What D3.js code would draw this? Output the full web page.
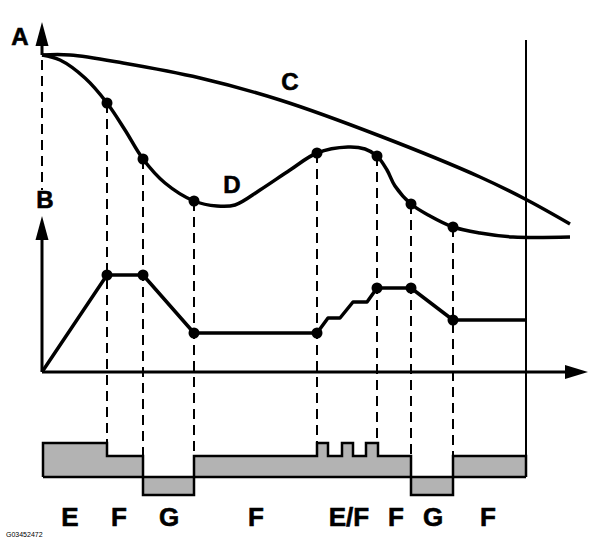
<!DOCTYPE html>
<html>
<head>
<meta charset="utf-8">
<script src="https://cdn.jsdelivr.net/npm/d3@7"></script>
<style>
  body { margin: 0; background: #fff; }
  text { font-family: "Liberation Sans", Arial, sans-serif; font-weight: bold; }
</style>
</head>
<body>
<svg width="600" height="558"></svg>
<script>
// time along the x axis, value on the y axis
var cTime  = [0, 28, 81, 158, 238, 338, 438, 485, 528];
var cValue = [317, 317, 309, 294, 272, 236, 195, 172, 148];

var dTime  = [0, 18, 43, 65, 83, 101, 123, 152, 175, 193, 218, 248, 275, 306, 323, 335, 345, 353, 369, 388, 411, 438, 471, 528];
var dValue = [317, 312, 294, 269, 242, 213, 189, 171, 166, 167, 182, 202, 219, 225, 223, 216, 202, 186, 168, 156, 145, 139, 135, 135];

var bTime  = [0, 65, 101, 152, 275, 286, 298, 311, 325, 335, 369, 411, 485];
var bValue = [0, 97, 97, 39, 39, 54, 54, 70, 70, 84, 84, 52, 52];

// instants marked with dots and dashed lines
var markTimes = [65, 101, 152, 275, 335, 369, 411];

// bottom strip of modes
var stripEdges = [1, 65, 101, 152, 275, 286, 300, 311, 324, 336, 369, 411, 484];
var stripModes = ["E", "F", "G", "F", "E", "F", "E", "F", "E", "F", "G", "F"];
var modeNames  = ["E", "F", "G"];
var modeLevels = [1, 0.62, -0.53];

var modeLabels = ["E", "F", "G", "F", "E/F", "F", "G", "F"];
var labelTimes = [28, 77, 127, 214, 307, 354, 391, 446];

var svg = d3.select("svg");

var x = d3.scaleLinear().domain([0, 546]).range([42, 588]);
var y = d3.scaleLinear().domain([0, 350]).range([372, 22]);
var yS = d3.scaleLinear().domain([0, 1]).range([477, 443]);
var level = d3.scaleOrdinal().domain(modeNames).range(modeLevels);

var cData = cTime.map((t, i) => [t, cValue[i]]);
var dData = dTime.map((t, i) => [t, dValue[i]]);
var bData = bTime.map((t, i) => [t, bValue[i]]);

var smooth = d3.line().x(d => x(d[0])).y(d => y(d[1])).curve(d3.curveCatmullRom.alpha(0.5));
var straight = d3.line().x(d => x(d[0])).y(d => y(d[1]));

// strip fill
var segs = stripModes.map((m, i) => ({m: m, t0: stripEdges[i], t1: stripEdges[i + 1]}));
svg.append("g").selectAll("rect")
  .data(segs).enter().append("rect")
    .attr("x", d => x(d.t0))
    .attr("width", d => x(d.t1) - x(d.t0))
    .attr("y", d => Math.min(yS(level(d.m)), yS(0)))
    .attr("height", d => Math.abs(yS(level(d.m)) - yS(0)))
    .style("fill", "#b3b3b3");

// strip outline
var stepPts = [[stripEdges[0], 0]];
segs.forEach(d => { stepPts.push([d.t0, level(d.m)]); stepPts.push([d.t1, level(d.m)]); });
stepPts.push([stripEdges[stripEdges.length - 1], 0]);
svg.append("path")
  .attr("d", d3.line().x(d => x(d[0])).y(d => yS(d[1]))(stepPts))
  .style("fill", "none").style("stroke", "#000").style("stroke-width", 2.5);
svg.append("line")
  .attr("x1", x(stripEdges[0])).attr("x2", x(stripEdges[stripEdges.length - 1]))
  .attr("y1", yS(0)).attr("y2", yS(0))
  .style("stroke", "#000").style("stroke-width", 2.5);

// dashed drop lines
function stripTop(t) {
  var i = stripEdges.indexOf(t);
  var lv = Math.max(level(stripModes[i - 1]), level(stripModes[i]));
  return yS(Math.max(lv, 0));
}
svg.append("g").selectAll("line")
  .data(markTimes).enter().append("line")
    .attr("x1", d => x(d)).attr("x2", d => x(d))
    .attr("y1", d => y(dValue[dTime.indexOf(d)]))
    .attr("y2", d => stripTop(d))
    .style("stroke", "#000").style("stroke-width", 2)
    .style("stroke-dasharray", "10,6");
svg.append("line")
  .attr("x1", x(0)).attr("x2", x(0)).attr("y1", y(312)).attr("y2", y(182))
  .style("stroke", "#000").style("stroke-width", 2).style("stroke-dasharray", "10,6");

// end marker line
svg.append("line")
  .attr("x1", x(484)).attr("x2", x(484)).attr("y1", 40).attr("y2", yS(0))
  .style("stroke", "#000").style("stroke-width", 2);

// axes with arrows
var ax = svg.append("g").style("stroke", "#000").style("stroke-width", 3);
ax.append("line").attr("x1", x(0)).attr("x2", x(0)).attr("y1", y(317)).attr("y2", y(327));
ax.append("line").attr("x1", x(0)).attr("x2", x(0)).attr("y1", y(0)).attr("y2", y(132));
ax.append("line").attr("x1", x(0)).attr("x2", x(523)).attr("y1", y(0)).attr("y2", y(0));
function arrow(px, py, dir) {
  var p = dir === "up"
    ? [[px, py], [px - 6.5, py + 24], [px + 6.5, py + 24]]
    : [[px, py], [px - 23, py - 7], [px - 23, py + 7]];
  svg.append("path").attr("d", "M" + p.join("L") + "Z").style("fill", "#000");
}
arrow(x(0), y(350), "up");
arrow(x(0), y(156), "up");
arrow(x(546), y(0), "right");

// curves
[cData, dData].forEach(dd => {
  svg.append("path").attr("d", smooth(dd))
    .style("fill", "none").style("stroke", "#000").style("stroke-width", 3.5);
});
svg.append("path").attr("d", straight(bData))
  .style("fill", "none").style("stroke", "#000").style("stroke-width", 3.5)
  .style("stroke-linejoin", "round");

// dots
svg.append("g").selectAll("circle")
  .data(markTimes).enter().append("circle")
    .attr("cx", d => x(d)).attr("cy", d => y(dValue[dTime.indexOf(d)])).attr("r", 5.5);
svg.append("g").selectAll("circle")
  .data(markTimes).enter().append("circle")
    .attr("cx", d => x(d)).attr("cy", d => y(bValue[bTime.indexOf(d)])).attr("r", 5.5);

// letters
var big = [["A", 20, 36], ["B", 45, 199], ["C", 290, 81], ["D", 232, 184]];
svg.append("g").selectAll("text")
  .data(big).enter().append("text")
    .attr("x", d => d[1]).attr("y", d => d[2])
    .attr("text-anchor", "middle").attr("dominant-baseline", "central")
    .style("font-size", "24px").style("stroke", "#000").style("stroke-width", 0.6)
    .text(d => d[0]);

svg.append("g").selectAll("text")
  .data(modeLabels).enter().append("text")
    .attr("x", (d, i) => x(labelTimes[i])).attr("y", 517)
    .attr("text-anchor", "middle").attr("dominant-baseline", "central")
    .style("font-size", "26px").style("stroke", "#000").style("stroke-width", 0.6)
    .text(d => d);

svg.append("text").attr("x", 6).attr("y", 537)
  .style("font-size", "7px").style("font-weight", "normal")
  .text("G03452472");
</script>
</body>
</html>
